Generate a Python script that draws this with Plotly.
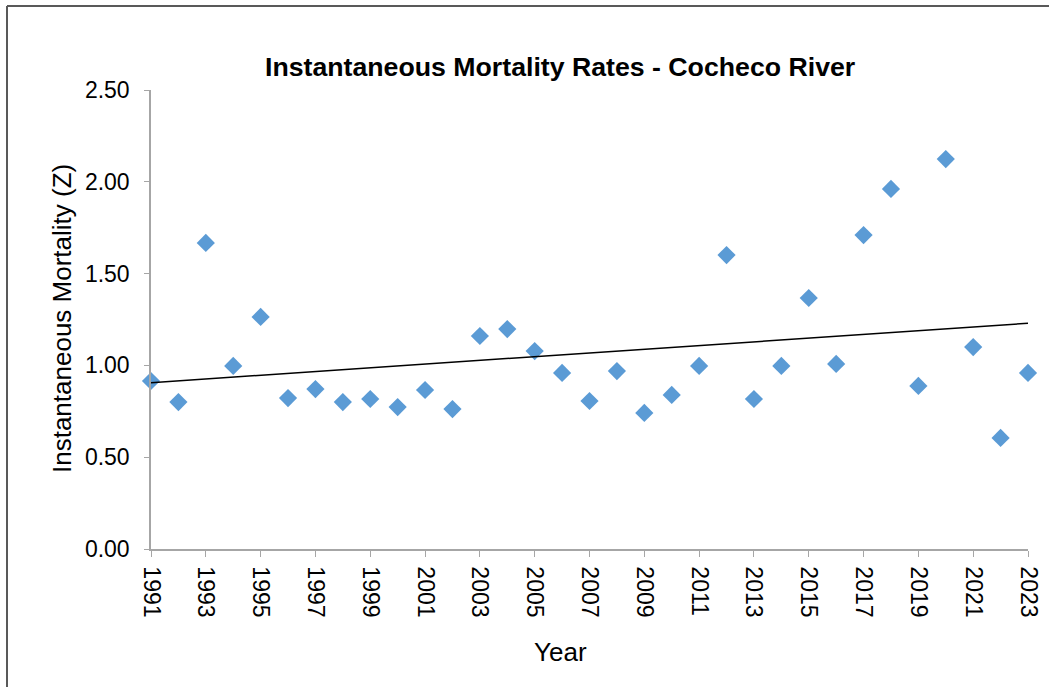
import numpy as np
import plotly.graph_objects as go

years = list(range(1991, 2024))
z_values = [0.915, 0.80, 1.667, 0.997, 1.264, 0.822, 0.871, 0.80, 0.817, 0.773,
            0.866, 0.762, 1.16, 1.198, 1.078, 0.959, 0.806, 0.969, 0.741, 0.839,
            0.997, 1.601, 0.817, 0.997, 1.367, 1.008, 1.71, 1.961, 0.888, 2.124,
            1.10, 0.605, 0.959]

slope, intercept = np.polyfit(years, z_values, 1)
trend_x = [years[0], years[-1]]
trend_y = [slope * x + intercept for x in trend_x]

W, H = 1049, 687
ml, mr, mt, mb = 151, 21, 90, 138
axis_color = "#a6a6a6"
font_family = "Liberation Sans, Arial, sans-serif"

fig = go.Figure()
fig.add_trace(go.Scatter(x=years, y=z_values, mode="markers",
                         marker=dict(symbol="diamond", size=14, color="#5b9bd5"),
                         cliponaxis=False, showlegend=False))
fig.add_trace(go.Scatter(x=trend_x, y=trend_y, mode="lines",
                         line=dict(color="black", width=1.5),
                         cliponaxis=False, showlegend=False))

pw = W - ml - mr
ph = H - mt - mb
def px_x(p):
    return (p - ml) / pw
def px_y(p):
    return (H - mb - p) / ph

fig.update_layout(
    width=W, height=H, autosize=False,
    margin=dict(l=ml, r=mr, t=mt, b=mb, pad=0, autoexpand=False),
    paper_bgcolor="white", plot_bgcolor="white",
    font=dict(family=font_family, color="black"),
    xaxis=dict(range=[1991, 2023], tick0=1991, dtick=2, tickangle=90,
               automargin=False,
               showgrid=False, zeroline=False, showline=True, linecolor=axis_color,
               linewidth=1.5, ticks="outside", ticklen=6, tickcolor=axis_color,
               ticklabelstandoff=5,
               tickfont=dict(size=23, family=font_family, color="black")),
    yaxis=dict(range=[0, 2.5], tick0=0, dtick=0.5, tickformat=".2f",
               automargin=False,
               showgrid=False, zeroline=False, showline=True, linecolor=axis_color,
               linewidth=1.5, ticks="outside", ticklen=5, tickcolor=axis_color,
               ticklabelstandoff=10,
               tickfont=dict(size=23, family=font_family, color="black")),
    annotations=[
        dict(text="<b>Instantaneous Mortality Rates - Cocheco River</b>",
             xref="paper", yref="paper", x=px_x(560), y=px_y(67),
             xanchor="center", yanchor="middle", showarrow=False,
             font=dict(size=26.7, family=font_family, color="black")),
        dict(text="Instantaneous Mortality (Z)", xref="paper", yref="paper",
             x=px_x(62), y=px_y(319), xanchor="center", yanchor="middle",
             textangle=-90, showarrow=False,
             font=dict(size=26, family=font_family, color="black")),
        dict(text="Year", xref="paper", yref="paper",
             x=px_x(560), y=px_y(652), xanchor="center", yanchor="middle",
             showarrow=False, font=dict(size=26, family=font_family, color="black")),
    ],
    shapes=[
        dict(type="line", xref="paper", yref="paper", x0=px_x(7), x1=px_x(7),
             y0=px_y(6), y1=px_y(H + 2), line=dict(color="#595959", width=2)),
        dict(type="line", xref="paper", yref="paper", x0=px_x(7), x1=px_x(W + 2),
             y0=px_y(6), y1=px_y(6), line=dict(color="#595959", width=2)),
    ],
)

fig.write_html("out.html", config={"displayModeBar": False},
               post_script="document.body.style.margin='0px';document.body.style.overflow='hidden';")
